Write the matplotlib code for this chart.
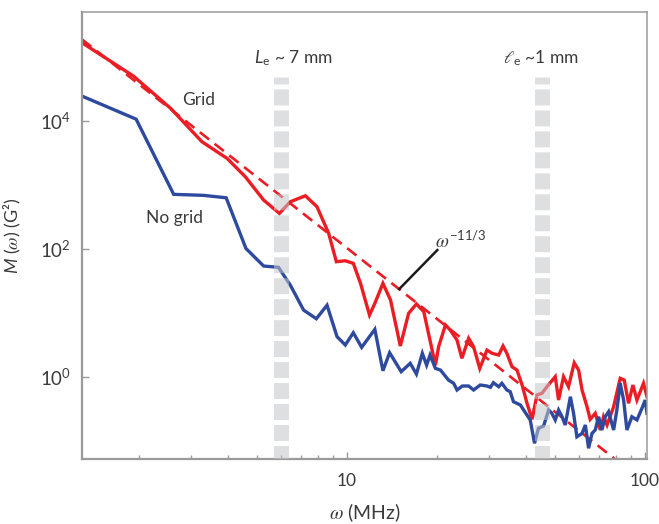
import matplotlib
matplotlib.use("Agg")
import matplotlib.pyplot as plt
from matplotlib.ticker import LogLocator, NullLocator, NullFormatter, FixedLocator

plt.rcParams['font.family'] = ['Lato', 'DejaVu Sans']
plt.rcParams['mathtext.fontset'] = 'custom'
plt.rcParams['mathtext.rm'] = 'Lato'
plt.rcParams['mathtext.sf'] = 'Lato:italic'
plt.rcParams['mathtext.it'] = 'STIXGeneral:italic'
plt.rcParams['lines.scale_dashes'] = False

# ---- data ----
grid_x = [1.29, 1.92, 2.56, 3.26, 3.96, 4.56, 5.25, 5.93, 6.45, 7.25, 7.93, 8.68, 9.21, 9.87,
          10.5, 11.1, 11.9, 12.4, 13.2, 14.0, 15.1, 16.1, 17.1, 18.1, 19.8, 20.3, 21.4, 22.2,
          23.4, 24.3, 25.6, 26.6, 27.9, 29.5, 30.7, 32.3, 33.4, 34.4, 35.8, 37.2, 38.7, 40.2,
          41.8, 43.4, 45.1, 46.9, 48.4, 50.0, 51.3, 53.3, 55.4, 57.9, 59.9, 61.5, 63.9, 65.5,
          68.1, 70.8, 72.6, 74.6, 78.5, 82.6, 85.2, 88.1, 91.1, 94.0, 96.4, 98.9, 101.6]
grid_y = [1.66e5, 4.99e4, 1.56e4, 4.70e3, 2.58e3, 1.33e3, 577, 357, 542, 673, 453, 174, 62.7, 64.9,
          59.1, 28.8, 9.21, 14.0, 28.8, 15.8, 3.02, 9.79, 13.7, 10.4, 1.52, 2.94, 6.43, 5.37,
          3.74, 1.94, 3.98, 2.94, 1.35, 2.61, 2.32, 2.18, 3.02, 2.32, 1.43, 1.27, 0.742, 0.384,
          0.216, 0.518, 0.551, 0.698, 0.835, 1.0, 0.432, 1.0, 0.698, 1.65, 1.27, 0.620, 0.340, 0.216,
          0.268, 0.147, 0.237, 0.176, 0.340, 0.944, 0.888, 0.384, 0.742, 0.432, 0.583, 0.789, 0.487]

nogrid_x = [1.29, 1.96, 2.62, 3.30, 3.93, 4.58, 5.25, 5.89, 6.45, 7.15, 7.89, 8.57, 9.26, 9.87,
            10.5, 11.2, 12.4, 13.2, 13.9, 15.2, 16.3, 17.1, 17.9, 18.5, 19.0, 19.8, 20.6, 21.9,
            22.8, 23.4, 24.4, 25.6, 26.6, 28.0, 29.5, 30.3, 31.0, 32.3, 33.1, 34.4, 35.3, 36.2,
            38.2, 39.7, 41.2, 42.6, 43.9, 45.7, 47.5, 48.7, 50.0, 51.3, 52.7, 54.0, 56.2, 57.6,
            59.1, 61.5, 63.1, 64.7, 66.4, 68.1, 69.9, 71.7, 73.6, 75.5, 78.5, 80.5, 82.6, 84.8,
            87.0, 90.4, 94.0, 97.7, 100.2, 101.6]
nogrid_y = [2.43e4, 1.06e4, 708, 683, 626, 101, 53.7, 51.2, 27.1, 11.0, 8.06, 13.1, 4.22, 3.13,
            4.87, 2.88, 5.50, 1.24, 2.37, 1.20, 1.62, 1.10, 2.32, 1.52, 2.18, 1.35, 1.27, 0.888,
            0.789, 0.620, 0.716, 0.716, 0.620, 0.742, 0.716, 0.683, 0.806, 0.698, 0.789, 0.620, 0.583, 0.407,
            0.361, 0.274, 0.211, 0.0911, 0.156, 0.170, 0.302, 0.268, 0.211, 0.302, 0.237, 0.176, 0.487, 0.268,
            0.115, 0.130, 0.176, 0.0761, 0.130, 0.147, 0.237, 0.147, 0.237, 0.284, 0.147, 0.302, 0.789, 0.432,
            0.147, 0.237, 0.211, 0.321, 0.432, 0.268]

# omega^(-11/3) reference line (end points)
fit_x = [1.29, 79.0]
fit_y = [1.87e5, 0.0524]

band_x = [6.0, 45.2]
band_labels = [r"$\mathsf{L}_{\mathrm{e}}$ ~ 7 mm", r"$\ell_{\mathrm{e}}$ ~1 mm"]
band_label_x = [6.6, 44.6]

pointer_x = [14.98, 20.1]
pointer_y = [23.5, 95.4]

ytick_vals = [1, 1e2, 1e4]

RED = '#ec1c24'
BLUE = '#2e4a9e'
TXT = '#3a3a3a'

fig = plt.figure(figsize=(6.59, 5.24), dpi=100)
ax = fig.add_axes([82/659, 1-459/524, (647-82)/659, (459-12)/524])

ax.set_xscale('log')
ax.set_yscale('log')
ax.set_xlim(1.29, 101.6)
ax.set_ylim(10**-1.286, 10**5.70)

ax.plot(fit_x, fit_y, color=RED, lw=1.9, linestyle=(0, (8.5, 5)), zorder=2)
ax.plot(grid_x, grid_y, color=RED, lw=2.4, zorder=2.2, solid_joinstyle='miter')
ax.plot(nogrid_x, nogrid_y, color=BLUE, lw=2.4, zorder=2.4, solid_joinstyle='miter')
ax.plot(pointer_x, pointer_y, color='#1a1a1a', lw=1.8, zorder=2.5)

for bx in band_x:
    ax.plot([bx, bx], [0.855, 0.0], transform=ax.get_xaxis_transform(),
            color='#c4c6ca', alpha=0.55, lw=10.8, solid_capstyle='butt',
            dash_capstyle='butt', linestyle=(6.5, (11.5, 3.6)), zorder=3)

for lbl, lx in zip(band_labels, band_label_x):
    ax.text(lx, 9.5e4, lbl, ha='center', va='center', fontsize=12.5, color=TXT)

ax.text(3.17, 2.1e4, "Grid", ha='center', va='center', fontsize=12.5, color=TXT)
ax.text(2.63, 302, "No grid", ha='center', va='center', fontsize=12.5, color=TXT)
ax.text(24.2, 137, r"$\omega^{-11/3}$", ha='center', va='center', fontsize=13.5, color=TXT)

for s in ax.spines.values():
    s.set_color('#9a9a9a')
    s.set_linewidth(1.1)
ax.spines['left'].set_linewidth(1.6)
ax.spines['bottom'].set_linewidth(1.6)

ax.yaxis.set_major_locator(FixedLocator(ytick_vals))
ax.yaxis.set_minor_locator(NullLocator())
ax.xaxis.set_minor_locator(LogLocator(base=10, subs=range(2, 10)))
ax.xaxis.set_minor_formatter(NullFormatter())
ax.set_xticks([10, 100])
ax.set_xticklabels(["10", "100"])

ax.tick_params(axis='both', which='major', direction='in', length=5, width=1.0,
               color='#9a9a9a', labelsize=13.5, labelcolor=TXT)
ax.tick_params(axis='x', which='minor', direction='in', length=3, width=1.0, color='#9a9a9a')
ax.tick_params(axis='x', which='major', pad=10, labelsize=12.5)
ax.tick_params(axis='y', which='major', pad=8)

ax.set_xlabel(r"$\omega$ (MHz)", fontsize=14, color=TXT, labelpad=9)
ax.set_ylabel(r"$\mathsf{M}$ ($\omega$) (G²)", fontsize=13, color=TXT, labelpad=12)

fig.savefig("out.png", dpi=100)
